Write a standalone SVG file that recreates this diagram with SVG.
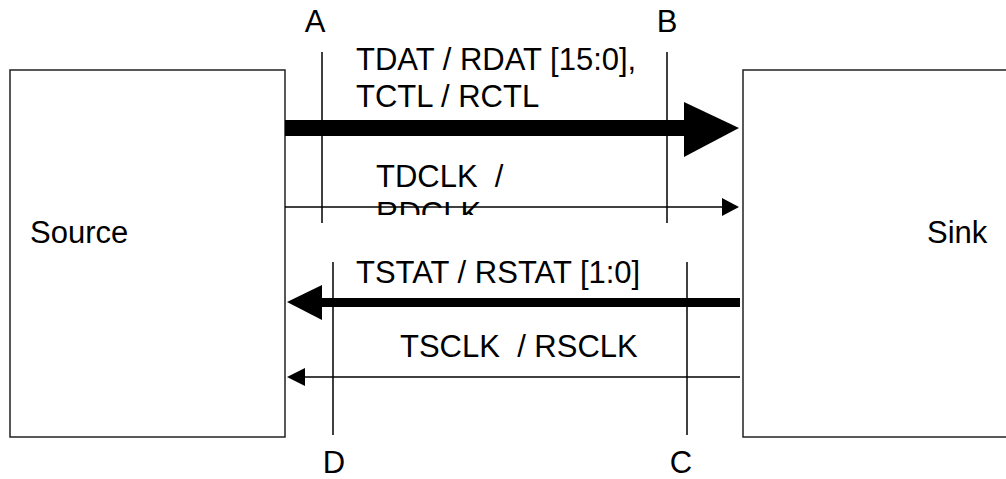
<svg xmlns="http://www.w3.org/2000/svg" width="1006" height="479" viewBox="0 0 1006 479">
<style>
.box{fill:#fff;stroke:#222;stroke-width:1.5}
.ln{stroke:#000;stroke-width:1.5;fill:none}
.t{font-family:"Liberation Sans",Arial,sans-serif;font-size:31px;fill:#000}
.tc{font-family:"Liberation Sans",Arial,sans-serif;font-size:31px;fill:#000;text-anchor:middle}
</style>
<defs>
<clipPath id="clipRD"><rect x="300" y="0" width="400" height="215"/></clipPath>
</defs>
<rect width="1006" height="479" fill="#fff"/>
<g id="source"><rect class="box" x="10" y="70" width="275" height="367"/><text class="t" x="30" y="243">Source</text></g>
<g id="sink"><rect class="box" x="743" y="70" width="280" height="367"/><text class="t" x="927" y="243">Sink</text></g>
<g id="markers">
<line class="ln" x1="322" y1="52" x2="322" y2="223"/>
<line class="ln" x1="667" y1="52" x2="667" y2="223"/>
<line class="ln" x1="333" y1="262" x2="333" y2="435"/>
<line class="ln" x1="687" y1="262" x2="687" y2="435"/>
<text class="tc" x="315" y="32">A</text>
<text class="tc" x="667" y="32">B</text>
<text class="tc" x="334" y="473">D</text>
<text class="tc" x="681" y="473">C</text>
</g>
<g id="connectors">
<rect x="285" y="120" width="400" height="16" fill="#000"/>
<polygon points="684,102 739,128 684,157" fill="#000"/>
<line class="ln" x1="285" y1="207" x2="723" y2="207"/>
<polygon points="722,198 739,207 722,216" fill="#000"/>
<rect x="320" y="298" width="420" height="9" fill="#000"/>
<polygon points="322,285 287,302 322,320" fill="#000"/>
<line class="ln" x1="304" y1="377" x2="740" y2="377"/>
<polygon points="305,368 287,377 305,386" fill="#000"/>
</g>
<g id="labels">
<text class="t" x="356" y="70">TDAT / RDAT [15:0],</text>
<text class="t" x="356" y="107">TCTL / RCTL</text>
<text class="t" x="376" y="187" xml:space="preserve">TDCLK  /</text>
<text class="t" x="376" y="224" clip-path="url(#clipRD)">RDCLK</text>
<text class="t" x="356" y="283">TSTAT / RSTAT [1:0]</text>
<text class="t" x="400" y="357" xml:space="preserve">TSCLK  / RSCLK</text>
</g>
</svg>
